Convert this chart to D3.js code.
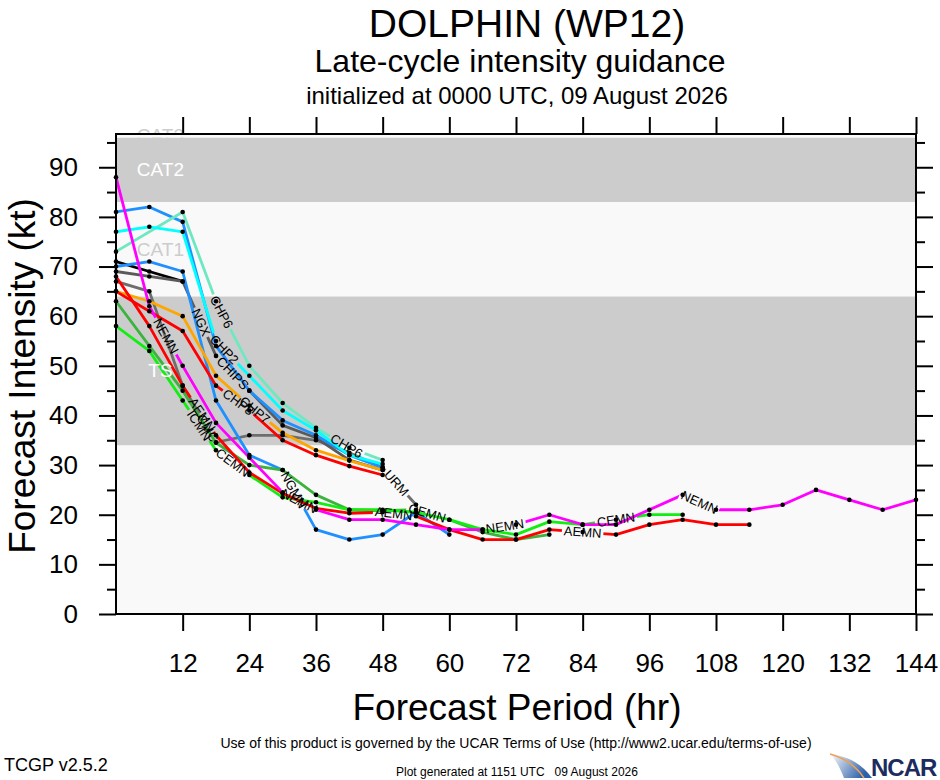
<!DOCTYPE html>
<html>
<head>
<meta charset="utf-8">
<script src="https://cdn.jsdelivr.net/npm/d3@7"></script>
<style>
  body { margin: 0; background: #fff; }
  svg text { font-family: Helvetica, "Liberation Sans", Arial, sans-serif; }
</style>
</head>
<body>
<svg id="chart" width="940" height="780"></svg>
<script>
// forecast hours (every 6 h)
const hours = [0, 6, 12, 18, 24, 30, 36, 42, 48, 54, 60, 66, 72, 78, 84, 90, 96, 102, 108, 114, 120, 126, 132, 138, 144]

// intensity (kt) per model, null = no forecast
const nemn   = [88, 62, 50, 38.5, 31.5, 24.5, 21, 19, 19, 18, 17, 17, 18, 20, 18, 18, 21, 24, 21, 21, 22, 25, 23, 21, 23]
const blueA  = [81, 82, 79, 54, 45, 39, 36, 32, 29.5]
const blueB  = [70, 71, 69, 43, 32, 29, 17, 15, 16, 20.5, 16]
const cyan   = [77, 78, 77, 55, 48, 41, 37, 32, 30.2]
const aqua   = [73, null, 81, 63, 50, 42.5, 37.5, 33.5, 31]
const black  = [71, 69, 67]
const grayA  = [69, 68, 67, 52, 45, 38, 35.5, 31, 29]
const grayB  = [67, 65, 46, 34.6, 36, 36, 35, 32.5, 29.5, 22]
const redA   = [68, 58, 46, 36, 28.5, 24.3, 21.3, 20.3, 20.5, 19.7, 17, 15, 15, 17, 16.5, 16, 18, 19, 18, 18]
const redB   = [65, 61, 57, 46, 41, 35, 32, 29.8, 28]
const orange = [65, 63, 60, 48, 42, 36.5, 33, 30.9, 29]
const greenM = [63, 54, 45, 34.5, 30, 29, 24, 21, 20.8, 21, 19, 16.5, 15, 16]
const lime   = [58, 53, 43, 33, 28, 23.5, 22.5, 21, 21, 20.5, 19, 17, 16, 18.6, 18, 19, 20, 20]

// intensity categories (lower bound in kt)
const bandNames  = ['TD', 'TS', 'CAT1', 'CAT2', 'CAT3']
const bandFloors = [0, 34, 64, 83, 96]

// tick values
const xTicks = [12, 24, 36, 48, 60, 72, 84, 96, 108, 120, 132, 144]
const yTicks = [0, 10, 20, 30, 40, 50, 60, 70, 80, 90]
const yMinor = [5, 15, 25, 35, 45, 55, 65, 75, 85, 95]

// where the model names sit on the lines: [model, text, hour]
const lineLabels = [
  ['nemn', 'NEMN', 9], ['nemn', 'NEMN', 33], ['nemn', 'NEMN', 70], ['nemn', 'NEMN', 105],
  ['aqua', 'CHP6', 19], ['aqua', 'CHP6', 41.5],
  ['cyan', 'CHP2', 19.5],
  ['grayA', 'NGX', 15.3], ['grayA', 'CHIPS', 21],
  ['redB', 'CHP8', 22], ['orange', 'CHP7', 25],
  ['redA', 'AEMN', 15.5], ['redA', 'AEMN', 50], ['redA', 'AEMN', 84],
  ['lime', 'ICMN', 15], ['lime', 'CEMN', 21], ['lime', 'CEMN', 90],
  ['grayB', 'CMC', 16.5], ['grayB', 'URM', 50.5],
  ['blueB', 'NGMN', 32], ['greenM', 'CEMN', 56]
]

const models = [
  { key: 'black',  values: black,  color: '#000000' },
  { key: 'grayB',  values: grayB,  color: '#6e6e6e' },
  { key: 'grayA',  values: grayA,  color: '#5a5a5a' },
  { key: 'blueB',  values: blueB,  color: '#1e90ff' },
  { key: 'blueA',  values: blueA,  color: '#1e90ff' },
  { key: 'aqua',   values: aqua,   color: '#6fe8c2' },
  { key: 'cyan',   values: cyan,   color: '#00ffff' },
  { key: 'orange', values: orange, color: '#ffa500' },
  { key: 'redB',   values: redB,   color: '#ff0000' },
  { key: 'greenM', values: greenM, color: '#3cb33c' },
  { key: 'lime',   values: lime,   color: '#11ee11' },
  { key: 'redA',   values: redA,   color: '#ff0000' },
  { key: 'nemn',   values: nemn,   color: '#ff00ff' }
]

const W = 940, H = 780
const plot = { left: 116, right: 916, top: 134, bottom: 614 }

const svg = d3.select('#chart')
const defs = svg.append('defs')

const x = d3.scaleLinear().domain([0, 144]).range([plot.left, plot.right])
const y = d3.scaleLinear().domain([0, 96.7]).range([plot.bottom, plot.top])

defs.append('clipPath').attr('id', 'plotClip')
  .append('rect')
  .attr('x', plot.left).attr('y', plot.top)
  .attr('width', plot.right - plot.left).attr('height', plot.bottom - plot.top)

// TITLES
svg.append('text').attr('x', 527).attr('y', 37).attr('text-anchor', 'middle')
  .style('font-size', '39px').text('DOLPHIN (WP12)')
svg.append('text').attr('x', 520).attr('y', 72).attr('text-anchor', 'middle')
  .style('font-size', '32px').text('Late-cycle intensity guidance')
svg.append('text').attr('x', 517).attr('y', 104).attr('text-anchor', 'middle')
  .style('font-size', '24px').text('initialized at 0000 UTC, 09 August 2026')

// CAT3 label sits at the top edge, half hidden by the band below it
const bandLabelColor = ['#cccccc', '#ffffff', '#cccccc', '#ffffff', '#cccccc']
svg.append('text')
  .attr('x', x(8)).attr('y', y((bandFloors[4] + 96.7) / 2))
  .attr('text-anchor', 'middle').attr('dominant-baseline', 'central')
  .style('font-size', '19px').style('fill', bandLabelColor[4])
  .text(bandNames[4])

// BANDS
const bandTops = bandFloors.slice(1).concat([120])
const bandG = svg.append('g').attr('clip-path', 'url(#plotClip)')
bandG.selectAll('rect')
  .data(bandNames)
  .enter().append('rect')
  .attr('x', plot.left)
  .attr('width', plot.right - plot.left)
  .attr('y', (d, i) => y(bandTops[i]))
  .attr('height', (d, i) => y(bandFloors[i]) - y(bandTops[i]))
  .attr('fill', (d, i) => i % 2 == 1 ? '#cccccc' : '#f9f9f9')

// LINES
function pointsOf(m) {
  return hours.map((h, i) => [h, m.values[i]]).filter(p => p[1] != null && p[1] !== undefined)
}

// position and angle at hour h along a model's polyline
function spotOn(pts, h) {
  for (let i = 0; i < pts.length - 1; i++) {
    if (h >= pts[i][0] && h <= pts[i + 1][0]) {
      const x0 = x(pts[i][0]), y0 = y(pts[i][1]), x1 = x(pts[i + 1][0]), y1 = y(pts[i + 1][1])
      const t = (h - pts[i][0]) / (pts[i + 1][0] - pts[i][0])
      return { x: x0 + t * (x1 - x0), y: y0 + t * (y1 - y0), a: Math.atan2(y1 - y0, x1 - x0) * 180 / Math.PI }
    }
  }
  return null
}

const line = d3.line().x(p => x(p[0])).y(p => y(p[1]))
const lineG = svg.append('g').attr('clip-path', 'url(#plotClip)')
const bandLabelG = svg.append('g')
const dotG = svg.append('g')
const labelG = svg.append('g')

// band labels, centred in the visible part of each band (drawn over the lines)
for (let i = 1; i < 4; i++) {
  bandLabelG.append('text')
    .attr('x', x(8)).attr('y', y((bandFloors[i] + Math.min(bandTops[i], 96.7)) / 2))
    .attr('text-anchor', 'middle').attr('dominant-baseline', 'central')
    .style('font-size', '19px').style('fill', bandLabelColor[i])
    .text(bandNames[i])
}

models.forEach(function(m) {
  const pts = pointsOf(m)
  const mask = defs.append('mask').attr('id', 'mask-' + m.key)
    .attr('maskUnits', 'userSpaceOnUse')
    .attr('x', 0).attr('y', 0).attr('width', W).attr('height', H)
  mask.append('rect').attr('width', W).attr('height', H).attr('fill', 'white')

  lineLabels.filter(l => l[0] == m.key).forEach(function(l) {
    const s = spotOn(pts, l[2])
    if (!s) return
    const t = labelG.append('text')
      .attr('transform', 'translate(' + s.x + ',' + s.y + ') rotate(' + s.a + ')')
      .attr('text-anchor', 'middle').attr('dominant-baseline', 'central')
      .style('font-size', '13px').style('fill', '#000')
      .text(l[1])
    const w = t.node().getComputedTextLength()
    // break the line under its own label
    mask.append('rect')
      .attr('x', -w / 2 - 2).attr('y', -6).attr('width', w + 4).attr('height', 12)
      .attr('fill', 'black')
      .attr('transform', 'translate(' + s.x + ',' + s.y + ') rotate(' + s.a + ')')
  })

  lineG.append('g').attr('mask', 'url(#mask-' + m.key + ')')
    .append('path')
    .datum(pts)
    .attr('d', line)
    .attr('fill', 'none')
    .attr('stroke', m.color)
    .attr('stroke-width', 2.8)
    .attr('stroke-linejoin', 'round')

  dotG.selectAll('.dot-' + m.key)
    .data(pts)
    .enter().append('circle')
    .attr('class', 'dot-' + m.key)
    .attr('cx', p => x(p[0]))
    .attr('cy', p => y(p[1]))
    .attr('r', 2.3)
    .attr('fill', '#000')
})
labelG.raise()

// AXES
function styleAxis(g) {
  g.select('.domain').remove()
  g.selectAll('line').attr('stroke', '#000').attr('stroke-width', 2)
  g.selectAll('text').style('font-size', '26px').attr('fill', '#000')
}

svg.append('g').attr('transform', 'translate(' + plot.left + ',0)')
  .call(d3.axisLeft(y).tickValues(yTicks).tickSize(17).tickPadding(21).tickFormat(d3.format('d')))
  .call(styleAxis)
svg.append('g').attr('transform', 'translate(' + plot.left + ',0)')
  .call(d3.axisLeft(y).tickValues(yMinor).tickSize(9).tickFormat(''))
  .call(styleAxis)
svg.append('g').attr('transform', 'translate(' + plot.right + ',0)')
  .call(d3.axisRight(y).tickValues(yTicks).tickSize(17).tickFormat(''))
  .call(styleAxis)
svg.append('g').attr('transform', 'translate(' + plot.right + ',0)')
  .call(d3.axisRight(y).tickValues(yMinor).tickSize(9).tickFormat(''))
  .call(styleAxis)
svg.append('g').attr('transform', 'translate(0,' + plot.bottom + ')')
  .call(d3.axisBottom(x).tickValues(xTicks).tickSize(17).tickPadding(23))
  .call(styleAxis)
svg.append('g').attr('transform', 'translate(0,' + plot.top + ')')
  .call(d3.axisTop(x).tickValues(xTicks).tickSize(17).tickFormat(''))
  .call(styleAxis)

// frame
svg.append('rect')
  .attr('x', plot.left).attr('y', plot.top)
  .attr('width', plot.right - plot.left).attr('height', plot.bottom - plot.top)
  .attr('fill', 'none').attr('stroke', '#000').attr('stroke-width', 2)

// axis titles
svg.append('text').attr('x', 517).attr('y', 720).attr('text-anchor', 'middle')
  .style('font-size', '37px').text('Forecast Period (hr)')
svg.append('text').attr('transform', 'translate(35,376) rotate(-90)').attr('text-anchor', 'middle')
  .style('font-size', '37px').text('Forecast Intensity (kt)')

// FOOTER
svg.append('text').attr('x', 516).attr('y', 748).attr('text-anchor', 'middle')
  .style('font-size', '14px').text('Use of this product is governed by the UCAR Terms of Use (http://www2.ucar.edu/terms-of-use)')
svg.append('text').attr('x', 4).attr('y', 771)
  .style('font-size', '18px').text('TCGP v2.5.2')
svg.append('text').attr('x', 517).attr('y', 776).attr('text-anchor', 'middle').attr('xml:space', 'preserve')
  .style('font-size', '12px').style('white-space', 'pre').text('Plot generated at 1151 UTC   09 August 2026')

// NCAR logo
const grad = defs.append('linearGradient').attr('id', 'swoosh').attr('x1', 0).attr('y1', 0).attr('x2', 1).attr('y2', 0.4)
grad.append('stop').attr('offset', '0%').attr('stop-color', '#ffffff')
grad.append('stop').attr('offset', '100%').attr('stop-color', '#2b5fa8')
const logo = svg.append('g').attr('transform', 'translate(830,754)')
logo.append('path').attr('d', 'M0,0 C18,2 32,10 42,24 L14,24 C10,14 6,6 0,0 Z').attr('fill', 'url(#swoosh)')
logo.append('path').attr('d', 'M0,0 C14,4 26,12 34,24').attr('fill', 'none').attr('stroke', '#f0a050').attr('stroke-width', 1.5)
logo.append('text').attr('x', 41).attr('y', 22)
  .style('font-size', '24px').style('letter-spacing', '-1px')
  .style('font-weight', 'bold').style('fill', '#1d2c5e').text('NCAR')
</script>
</body>
</html>
